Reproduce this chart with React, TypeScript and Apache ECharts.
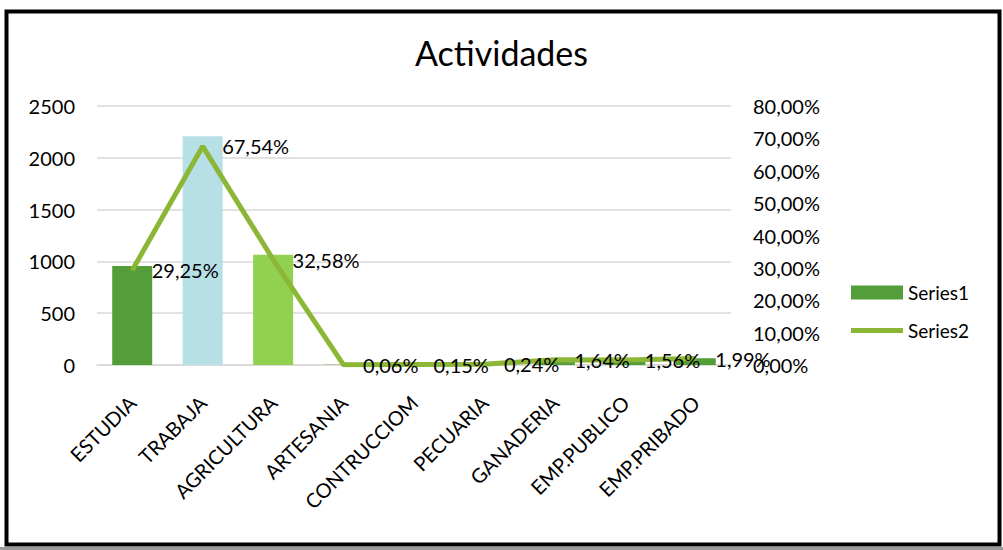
import React, { useEffect, useRef } from "react";
import * as echarts from "echarts";

const categories = ["ESTUDIA", "TRABAJA", "AGRICULTURA", "ARTESANIA", "CONTRUCCIOM", "PECUARIA", "GANADERIA", "EMP.PUBLICO", "EMP.PRIBADO"];
const series1 = [956, 2209, 1065, 2, 5, 8, 54, 51, 65];
const series2 = [0.2925, 0.6754, 0.3258, 0.0006, 0.0015, 0.0024, 0.0164, 0.0156, 0.0199];
const leftTicks = { min: 0, max: 2500, interval: 500 };
const rightTicks = { min: 0, max: 0.8, interval: 0.1 };

const barColors = ["#549e39", "#b7dfe6", "#92d050", "#549e39", "#b7dfe6", "#92d050", "#549e39", "#549e39", "#549e39"];
const FONT = "Lato";
const LINE_COLOR = "#8cb635";

const pct = (v: number) => (v * 100).toFixed(2).replace(".", ",") + "%";

export default function App() {
  const ref = useRef<HTMLDivElement>(null);
  useEffect(() => {
    if (!ref.current) return;
    const chart = echarts.init(ref.current, null, { renderer: "svg" });
    chart.setOption({
      animation: false,
      backgroundColor: "#fff",
      textStyle: { fontFamily: FONT, color: "#000" },
      title: {
        text: "Actividades",
        left: "center",
        top: 30,
        textStyle: { fontFamily: FONT, fontSize: 34, fontWeight: "normal", color: "#000" },
      },
      graphic: [
        { type: "rect", shape: { x: 0, y: 547, width: 1003, height: 3 }, style: { fill: "#9a9a9a" }, silent: true },
        { type: "rect", shape: { x: 6.5, y: 11.5, width: 993, height: 533 }, style: { fill: "none", stroke: "#000", lineWidth: 4 }, silent: true, z: 100 },
      ],
      legend: {
        orient: "vertical",
        left: 846,
        top: 278,
        itemWidth: 52,
        itemHeight: 14,
        itemGap: 19,
        textStyle: { fontFamily: FONT, fontSize: 19, color: "#000" },
        data: [
          { name: "Series1", icon: "rect", itemStyle: { color: "#549e39" } },
          { name: "Series2", icon: "path://M0,0 L52,0 L52,5 L0,5 Z", itemStyle: { color: LINE_COLOR } },
        ],
      },
      grid: { left: 97, right: 272, top: 106, bottom: 185 },
      xAxis: {
        type: "category",
        data: categories,
        axisLine: { show: true, lineStyle: { color: "#d9d9d9", width: 1.5 } },
        axisTick: { show: false },
        axisLabel: { rotate: 45, fontSize: 20, color: "#000", fontFamily: FONT, margin: 34, interval: 0 },
      },
      yAxis: [
        {
          type: "value",
          ...leftTicks,
          axisLine: { show: false },
          axisTick: { show: false },
          splitLine: { lineStyle: { color: "#d9d9d9", width: 1.5 } },
          axisLabel: { fontSize: 20, color: "#000", fontFamily: FONT, margin: 22, formatter: (v: number) => String(v) },
        },
        {
          type: "value",
          ...rightTicks,
          axisLine: { show: false },
          axisTick: { show: false },
          splitLine: { show: false },
          axisLabel: { fontSize: 20, color: "#000", fontFamily: FONT, margin: 22, formatter: (v: number) => pct(v) },
        },
      ],
      series: [
        {
          name: "Series1",
          type: "bar",
          barWidth: 40,
          itemStyle: { color: "#549e39" },
          data: series1.map((v, i) => ({ value: v, itemStyle: { color: barColors[i] } })),
        },
        {
          name: "Series2",
          type: "line",
          yAxisIndex: 1,
          data: series2,
          symbol: "circle",
          symbolSize: 1,
          showSymbol: true,
          lineStyle: { color: LINE_COLOR, width: 5 },
          itemStyle: { color: LINE_COLOR },
          label: {
            show: true,
            position: "right",
            distance: 19,
            fontSize: 20,
            color: "#000",
            fontFamily: FONT,
            formatter: (p: any) => pct(p.value),
          },
          labelLayout: { hideOverlap: false },
          z: 3,
        },
      ],
    });
    return () => chart.dispose();
  }, []);
  return (
    <div style={{ position: "absolute", left: 0, top: 0, width: 1003, height: 550 }}>
      <div ref={ref} style={{ width: 1003, height: 550 }} />
    </div>
  );
}
